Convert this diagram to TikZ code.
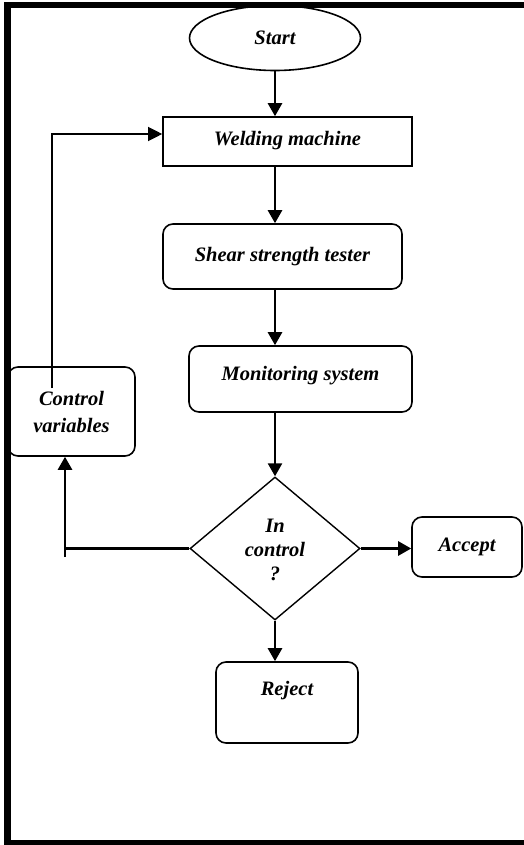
\documentclass[tikz,border=0pt]{standalone}
\usepackage{fontspec}
\setmainfont{Liberation Serif}
\usetikzlibrary{arrows.meta,shapes.geometric}

\tikzset{
  box/.style={draw, line width=1.6pt, text height=14pt, text depth=5pt},
  rbox/.style={box, rounded corners=10pt},
  flow/.style={line width=2.5pt, -{Triangle[length=13pt,width=14pt]}},
  plain/.style={line width=2.5pt},
  fb/.style={line width=1.2pt, -{Triangle[length=14pt,width=14pt]}},
}

\begin{document}
\begin{tikzpicture}[x=1pt,y=-1pt,
    font=\fontsize{20.5}{25}\selectfont\bfseries\itshape]
  \useasboundingbox (0,0) rectangle (523,845);
  % outer frame
  \draw[line width=6.5pt] (540,5) -- (7.5,5) -- (7.5,843) -- (540,843);

  \coordinate (axis) at (275,0);
  \coordinate (stub) at (65,557);
  \coordinate (fbfoot) at (52,388);

  \node[ellipse, draw, line width=1.6pt, minimum width=171pt,
    minimum height=65pt] (start) at (275,38) {Start};
  \node[box, minimum width=249pt, minimum height=49pt]
    (weld) at (287.5,141.5) {Welding machine};
  \node[rbox, minimum width=239pt, minimum height=65pt]
    (shear) at (282.5,256.5) {Shear strength tester};
  \node[rbox, minimum width=223pt, minimum height=66pt, text depth=11pt]
    (mon) at (300.5,379) {Monitoring system};
  \node[draw, line width=1.6pt, rounded corners=10pt, minimum width=127pt,
    minimum height=89pt, align=center,
    font=\fontsize{20.5}{27}\selectfont\bfseries\itshape]
    (ctrl) at (71.5,411.5) {Control\\variables};
  \node[diamond, draw, line width=1.4pt, minimum width=170pt,
    minimum height=143pt, inner sep=0pt, align=center,
    font=\fontsize{20.5}{24}\selectfont\bfseries\itshape]
    (dia) at (275,548.5) {\strut In\\control\\?};
  \node[rbox, minimum width=110pt, minimum height=60pt]
    (acc) at (467,547) {Accept};
  \node[rbox, minimum width=142pt, minimum height=81pt, text depth=29pt]
    (rej) at (287,702.5) {Reject};

  \draw[flow] (start.south) -- (start.south |- weld.north);
  \draw[flow] (axis |- weld.south) -- (axis |- shear.north);
  \draw[flow] (axis |- shear.south) -- (axis |- mon.north);
  \draw[flow] (axis |- mon.south) -- (dia.north);
  \draw[flow] (dia.east) -- (dia.east -| acc.west);
  \draw[flow] (dia.south) -- (dia.south |- rej.north);
  \draw[plain] (dia.west) -- (dia.west -| stub);
  \draw[flow] (stub) -- (stub |- ctrl.south);
  \draw[fb] (fbfoot) |- ([yshift=7.5pt]weld.west);
\end{tikzpicture}
\end{document}
